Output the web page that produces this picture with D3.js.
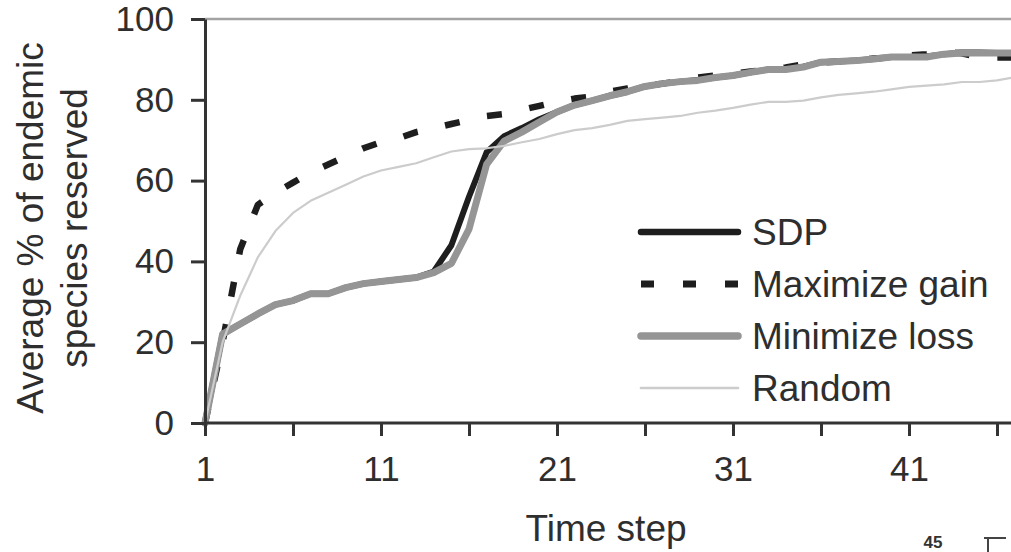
<!DOCTYPE html>
<html>
<head>
<meta charset="utf-8">
<script src="https://cdn.jsdelivr.net/npm/d3@7"></script>
<style>
    body { margin: 0; background: #fff; }
    svg { display: block; font-family: 'Liberation Sans', Arial, sans-serif; }
</style>
</head>
<body>
<svg id="chart" width="1011" height="552"></svg>
<script>
// time steps 1..47
const steps = d3.range(1, 48)

const sdp = [0, 22, 24.5, 27, 29.3, 30.3, 32, 32, 33.5, 34.5, 35, 35.5, 36, 37.5, 44, 56, 67, 71, 73, 75.2,
    77, 78.7, 79.8, 81, 82, 83.3, 84, 84.5, 84.9, 85.5, 86, 86.8, 87.5, 87.6, 88.2, 89.3, 89.5, 89.7, 90.1, 90.6,
    90.6, 90.7, 91.3, 91.7, 91.7, 91.6, 91.6]

const maxGain = [0, 20, 43, 54, 57, 59.5, 62, 64, 66, 68, 69.5, 70.5, 72, 73, 74, 75, 76, 76.5, 77.5, 78.5,
    79.5, 80.3, 80.8, 82, 82.8, 83.5, 84, 84.7, 85.5, 86, 86.5, 87, 87.5, 88, 88.8, 89.2, 89.5, 89.8, 90.2, 90.5,
    91, 91.3, 91.8, 91.5, 90.5, 90.5, 90.5]

const minLoss = [0, 22, 24.5, 27, 29.3, 30.3, 32, 32, 33.5, 34.5, 35, 35.5, 36, 37.2, 39.5, 48, 64, 69.8, 72, 74.5,
    77, 78.7, 79.8, 81, 82, 83.3, 84, 84.5, 84.8, 85.5, 86, 86.8, 87.5, 87.5, 88.1, 89.3, 89.5, 89.7, 90.1, 90.6,
    90.6, 90.6, 91.3, 91.6, 91.6, 91.6, 91.6]

const random = [0, 20, 31.5, 41, 47.5, 52, 55, 57, 59, 61, 62.5, 63.4, 64.3, 65.8, 67.2, 67.8, 68, 68.6, 69.5, 70.3,
    71.5, 72.5, 73, 73.8, 74.8, 75.2, 75.6, 76, 76.8, 77.3, 78, 78.8, 79.5, 79.5, 79.8, 80.6, 81.2, 81.6, 82, 82.6,
    83.2, 83.5, 83.8, 84.4, 84.4, 84.8, 85.6]

const xTicks = [1, 6, 11, 16, 21, 26, 31, 36, 41, 46]
const xLabels = [1, 11, 21, 31, 41]
const yTicks = [0, 20, 40, 60, 80, 100]

// legend order, drawing order is handled separately
const seriesNames = ['SDP', 'Maximize gain', 'Minimize loss', 'Random']

const styles = {
    'SDP': { color: '#1e1e1e', width: 6, dash: null },
    'Maximize gain': { color: '#1e1e1e', width: 6.5, dash: '15,28' },
    'Minimize loss': { color: '#959595', width: 7, dash: null },
    'Random': { color: '#cccccc', width: 2.2, dash: null }
}

const values = {
    'SDP': sdp,
    'Maximize gain': maxGain,
    'Minimize loss': minLoss,
    'Random': random
}

const svg = d3.select('#chart')

const x = d3.scaleLinear()
    .domain([1, 47])
    .range([205, 205 + 46 * 17.6])

const y = d3.scaleLinear()
    .domain([0, 100])
    .range([423, 19])

const axisColor = '#333'
const textColor = '#2e2e2e'

/// grid line at 100 ////////
svg.append('line')
    .attr('x1', x(1))
    .attr('x2', 1011)
    .attr('y1', y(100))
    .attr('y2', y(100))
    .attr('stroke', '#a3a3a3')
    .attr('stroke-width', 2.5)

/// series ////////
const line = d3.line()
    .x((d, i) => x(steps[i]))
    .y(d => y(d))

const drawOrder = ['Maximize gain', 'SDP', 'Minimize loss', 'Random']

svg.append('g')
    .selectAll('path')
    .data(drawOrder)
    .join('path')
    .attr('d', d => line(values[d]))
    .attr('fill', 'none')
    .attr('stroke', d => styles[d].color)
    .attr('stroke-width', d => styles[d].width)
    .attr('stroke-dasharray', d => styles[d].dash)
    .attr('stroke-linejoin', 'round')
    .attr('stroke-linecap', d => styles[d].dash ? 'butt' : 'round')

/// axes ////////
const yAxis = svg.append('g')
    .attr('transform', `translate(${x(1)},0)`)
    .call(d3.axisLeft(y).tickValues(yTicks).tickSize(14).tickSizeOuter(0).tickPadding(17))

const xAxis = svg.append('g')
    .attr('transform', `translate(0,${y(0)})`)
    .call(d3.axisBottom(x).tickValues(xTicks).tickSize(13).tickSizeOuter(0).tickPadding(20)
        .tickFormat(d => xLabels.includes(d) ? d : ''))

xAxis.select('.domain').attr('d', `M${x(1)},0H1011`)

;[xAxis, yAxis].forEach(g => {
    g.select('.domain').attr('stroke', axisColor).attr('stroke-width', 3)
    g.selectAll('.tick line').attr('stroke', axisColor).attr('stroke-width', 3)
    g.selectAll('.tick text')
        .attr('fill', textColor)
        .style('font-size', '35px')
        .style('font-family', "'Liberation Sans', Arial, sans-serif")
})

/// titles ////////
svg.append('text')
    .attr('x', 606)
    .attr('y', 541)
    .attr('text-anchor', 'middle')
    .attr('fill', textColor)
    .style('font-size', '37px')
    .text('Time step')

const yTitle = svg.append('g')
    .attr('transform', 'rotate(-90)')

yTitle.selectAll('text')
    .data(['Average % of endemic', 'species reserved'])
    .join('text')
    .attr('x', -228)
    .attr('y', (d, i) => 43 + i * 44)
    .attr('text-anchor', 'middle')
    .attr('fill', textColor)
    .style('font-size', '37px')
    .text(d => d)

/// legend ////////
const legend = svg.append('g')
    .selectAll('g')
    .data(seriesNames)
    .join('g')
    .attr('transform', (d, i) => `translate(641,${232 + i * 52})`)

legend.append('line')
    .attr('x1', 0)
    .attr('x2', 97)
    .attr('stroke', d => styles[d].color)
    .attr('stroke-width', d => styles[d].width + (d === 'Random' ? 0.5 : 0.5))
    .attr('stroke-dasharray', d => styles[d].dash ? '13,29' : null)
    .attr('stroke-linecap', d => styles[d].dash ? 'butt' : 'round')

legend.append('text')
    .attr('x', 111)
    .attr('dy', '0.35em')
    .attr('fill', textColor)
    .style('font-size', '37px')
    .text(d => d)

/// cropped neighbour panel at bottom right ////////
svg.append('text')
    .attr('x', 933)
    .attr('y', 548)
    .attr('text-anchor', 'middle')
    .attr('fill', '#333')
    .style('font-size', '17px')
    .style('font-weight', 'bold')
    .text('45')

svg.append('path')
    .attr('d', 'M984,538H1006M988,538V552')
    .attr('stroke', '#444')
    .attr('stroke-width', 2)
    .attr('fill', 'none')
</script>
</body>
</html>
